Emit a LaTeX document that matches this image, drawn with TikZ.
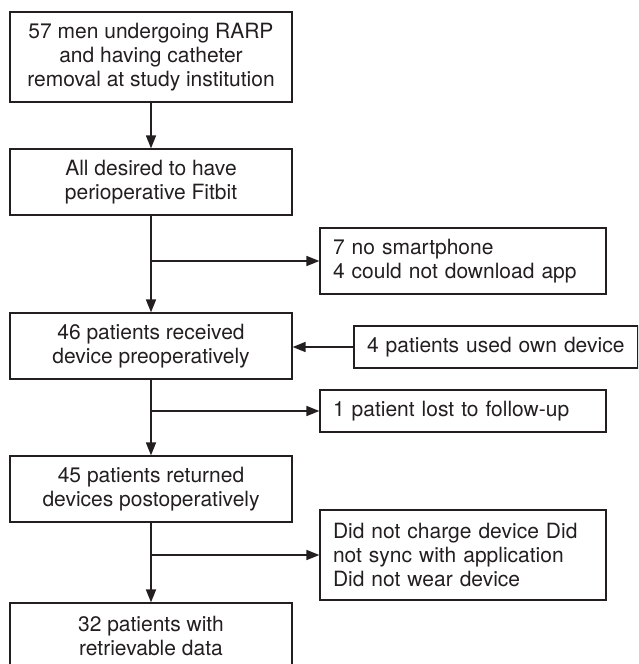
\documentclass[tikz,border=0pt]{standalone}
\usepackage{fontspec}
\setmainfont{TeX Gyre Heros}
\usetikzlibrary{arrows.meta}
\definecolor{ink}{HTML}{231F20}
\begin{document}
\begin{tikzpicture}[x=1pt,y=-1pt,
  every node/.style={font=\fontsize{21}{23.8}\selectfont, text=ink, inner sep=0pt},
  mainbox/.style={draw=ink, line width=1.2pt, minimum width=282pt, align=center},
  sidebox/.style={draw=ink, line width=1.2pt, minimum width=286pt, align=left, text width=260pt, inner xsep=13pt},
  flow/.style={draw=ink, line width=1.5pt, -{Triangle[length=13pt,width=10pt]}}]
\useasboundingbox (0,0) rectangle (638,664);
\clip (0,0) rectangle (638,664);
\node[mainbox, minimum height=90pt] (b1) at (151,57) {57 men undergoing RARP\\and having catheter\\removal at study institution};
\node[mainbox, minimum height=66pt] (b2) at (151,182) {All desired to have\\perioperative Fitbit};
\node[mainbox, minimum height=66pt] (b3) at (151,346) {46 patients received\\device preoperatively};
\node[mainbox, minimum height=66pt] (b4) at (151,489) {45 patients returned\\devices postoperatively};
\node[mainbox, minimum height=66pt] (b5) at (151,636) {32 patients with\\retrievable data};
\node[sidebox, minimum height=66pt] (sa) at (463,261) {7 no smartphone\\4 could not download app};
\node[draw=ink, line width=1.2pt, minimum width=284pt, minimum height=42pt, align=left, text width=258pt, inner xsep=13pt] (sb) at (496,347) {\mbox{4 patients used own device}};
\node[sidebox, minimum height=42pt] (sc) at (463,411) {1 patient lost to follow-up};
\node[sidebox, minimum height=90pt] (sd) at (463,555) {Did not charge device Did\\not sync with application\\Did not wear device};
\draw[flow] (b1.south) -- (b2.north);
\draw[flow] (b2.south) -- (b3.north);
\draw[flow] (b3.south) -- (b4.north);
\draw[flow] (b4.south) -- (b5.north);
\draw[flow] (b2.south |- sa.west) -- (sa.west);
\draw[flow] (sb.west) -- (b3.east |- sb.west);
\draw[flow] (b3.south |- sc.west) -- (sc.west);
\draw[flow] (b4.south |- sd.west) -- (sd.west);
\end{tikzpicture}
\end{document}
